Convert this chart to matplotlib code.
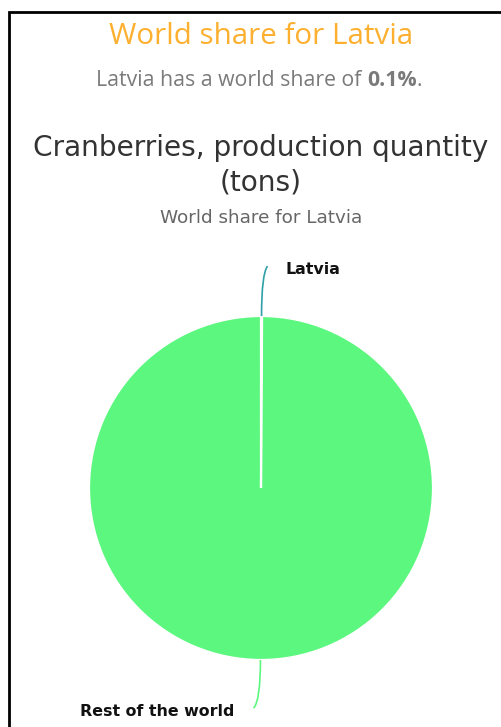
import matplotlib
matplotlib.use("Agg")
import matplotlib.pyplot as plt
import numpy as np
from matplotlib.patches import Rectangle, PathPatch
from matplotlib.path import Path
from matplotlib.text import Annotation

W, H = 501, 727
DPI = 100

country = "Latvia"
categories = ["Latvia", "Rest of the world"]
shares = [0.1, 99.9]
colors = ["#2f9fa8", "#5cf77f"]
connector_colors = ["#2f9fa8", "#5cf77f"]
share_label = "0.1%"

fig = plt.figure(figsize=(W / DPI, H / DPI), dpi=DPI)
fig.patch.set_facecolor("white")


def fx(px):
    return px / W


def fy(py):
    return 1 - py / H


# frame around the widget
fig.add_artist(Rectangle((fx(9), fy(H + 5)), 1.2, fy(12) - fy(H + 5),
                         transform=fig.transFigure, fill=False,
                         edgecolor="black", linewidth=2))

# header
fig.text(fx(261), fy(37), f"World share for {country}", ha="center", va="center",
         color="#fdb02f", fontsize=21.3, family="Open Sans")
t1 = fig.text(fx(96), fy(81), f"{country} has a world share of ", ha="left",
              va="center", color="#7a7a7a", fontsize=15.3, family="Open Sans")
a2 = Annotation(share_label, xy=(1, 0.5), xycoords=t1, va="center", ha="left",
                color="#7a7a7a", fontsize=15.3, family="Open Sans",
                fontweight="bold", annotation_clip=False)
fig.add_artist(a2)
a3 = Annotation(".", xy=(1, 0.5), xycoords=a2, va="center", ha="left",
                color="#7a7a7a", fontsize=15.3, family="Open Sans",
                annotation_clip=False)
fig.add_artist(a3)

# chart title and subtitle
fig.text(fx(261), fy(148), "Cranberries, production quantity", ha="center",
         va="center", color="#333333", fontsize=20.2, family="DejaVu Sans")
fig.text(fx(261), fy(183), "(tons)", ha="center", va="center",
         color="#333333", fontsize=20.2, family="DejaVu Sans")
fig.text(fx(261), fy(218), f"World share for {country}", ha="center",
         va="center", color="#666666", fontsize=13.2, family="DejaVu Sans")

# pie
cx, cy, r = 261, 488, 172
ax = fig.add_axes([fx(cx - r), fy(cy + r), (2 * r) / W, (2 * r) / H])
wedges, _ = ax.pie(shares, colors=colors, startangle=90, counterclock=False,
                   radius=1, wedgeprops=dict(edgecolor="white", linewidth=1.6))
ax.set_xlim(-1, 1)
ax.set_ylim(-1, 1)
ax.set_aspect("equal")
ax.axis("off")

# data labels with curved connectors
label_offsets = {
    "Latvia": ((0.035, 0.29), "left", (0.14, 0.27)),
    "Rest of the world": ((-0.04, -0.28), "right", (-0.15, -0.30)),
}
for w, name, cc in zip(wedges, categories, connector_colors):
    mid = np.deg2rad((w.theta1 + w.theta2) / 2)
    sx, sy = np.cos(mid), np.sin(mid)
    (dx, dy), ha, (lx, ly) = label_offsets[name]
    ex, ey = sx + dx, sy + dy
    verts = [(sx, sy), (sx, sy + dy * 0.85), (ex, ey)]
    path = Path(verts, [Path.MOVETO, Path.CURVE3, Path.CURVE3])
    ax.add_patch(PathPatch(path, fill=False, edgecolor=cc, linewidth=1.2,
                           clip_on=False))
    ax.text(sx + lx, sy + ly, name, ha=ha, va="center", fontsize=11.4,
            fontweight="bold", color="#111111", family="DejaVu Sans",
            clip_on=False)

fig.savefig("out.png", dpi=DPI)
